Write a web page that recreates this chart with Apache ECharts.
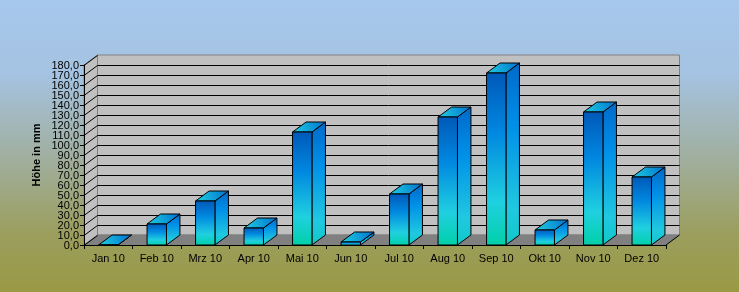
<!DOCTYPE html>
<html><head><meta charset="utf-8">
<script src="https://cdn.jsdelivr.net/npm/echarts@6/dist/echarts.min.js"></script>
<style>html,body{margin:0;padding:0;}#c{width:739px;height:292px;}</style>
</head><body><div id="c"></div>
<script>
const categories = ['Jan 10','Feb 10','Mrz 10','Apr 10','Mai 10','Jun 10','Jul 10','Aug 10','Sep 10','Okt 10','Nov 10','Dez 10'];
const values = [0, 21, 44, 17, 113, 3, 51, 128, 172, 15, 133, 68];
const yTicks = [0,10,20,30,40,50,60,70,80,90,100,110,120,130,140,150,160,170,180];
const yTickLabels = ['0,0','10,0','20,0','30,0','40,0','50,0','60,0','70,0','80,0','90,0','100,0','110,0','120,0','130,0','140,0','150,0','160,0','170,0','180,0'];
const yName = 'Höhe in mm';

const DX = 13.5, DY = 10;
const chart = echarts.init(document.getElementById('c'));

function wallsRender(params, api) {
  const cs = params.coordSys;
  const x = cs.x, y = cs.y, w = cs.width, h = cs.height;
  const children = [];
  children.push({type:'polygon', shape:{points:[[x,y],[x+DX,y-DY],[x+DX,y+h-DY],[x,y+h]]}, style:{fill:'#c0c0c0', stroke:'#808080', lineWidth:1}});
  children.push({type:'rect', shape:{x:x+DX, y:y-DY, width:w, height:h}, style:{fill:'#c0c0c0', stroke:'#808080', lineWidth:1}});
  children.push({type:'polygon', shape:{points:[[x,y+h],[x+DX,y+h-DY],[x+w+DX,y+h-DY],[x+w,y+h]]}, style:{fill:'#808080', stroke:'#808080', lineWidth:1}});
  yTicks.forEach(function(v, i){
    const py = Math.round(api.coord([0, v])[1]) + 0.5;
    if (v > 0 && v < 180) {
      children.push({type:'line', shape:{x1:x+DX, y1:py-DY, x2:x+w+DX, y2:py-DY}, style:{stroke:'#000', lineWidth:1}});
    }
    children.push({type:'line', shape:{x1:x, y1:py, x2:x+DX, y2:py-DY}, style:{stroke:'#000', lineWidth:1}});
    children.push({type:'text', x:x-5, y:py, style:{text:yTickLabels[i], fill:'#000', font:'11px "Liberation Sans"', align:'right', verticalAlign:'middle'}});
  });
  children.push({type:'line', shape:{x1:x+w, y1:y+h, x2:x+w+DX, y2:y+h-DY}, style:{stroke:'#000', lineWidth:1}});
  return {type:'group', children: children};
}

function barRender(params, api) {
  const idx = api.value(0), val = api.value(1);
  const top = api.coord([idx, val]);
  const base = api.coord([idx, 0]);
  const band = api.size([1, 0])[0];
  const bw = band * 0.4;
  const x0 = top[0] - bw / 2, x1 = x0 + bw;
  const ty = top[1], by = base[1];
  const frontFill = {type:'linear', x:0, y:0, x2:0, y2:1, colorStops:[
    {offset:0, color:'#0058b8'},{offset:0.35, color:'#0088e0'},{offset:0.75, color:'#20d0e0'},{offset:1, color:'#00d0a8'}]};
  const sideFill = {type:'linear', x:0, y:0, x2:0, y2:1, colorStops:[
    {offset:0, color:'#0068c8'},{offset:0.35, color:'#0090e8'},{offset:0.8, color:'#20c8e0'},{offset:1, color:'#10c8c8'}]};
  const topFill = {type:'linear', x:0, y:1, x2:1, y2:0, colorStops:[
    {offset:0, color:'#20d0e0'},{offset:1, color:'#0070d0'}]};
  const st = {stroke:'#000', lineWidth:1};
  return {type:'group', children:[
    {type:'polygon', shape:{points:[[x1,ty],[x1+DX,ty-DY],[x1+DX,by-DY],[x1,by]]}, style:Object.assign({fill:sideFill}, st)},
    {type:'polygon', shape:{points:[[x0,ty],[x0+DX,ty-DY],[x1+DX,ty-DY],[x1,ty]]}, style:Object.assign({fill:topFill}, st)},
    {type:'rect', shape:{x:x0, y:ty, width:bw, height:Math.max(by-ty,0)}, style:Object.assign({fill:frontFill}, st)}
  ]};
}

chart.setOption({
  animation: false,
  backgroundColor: {type:'linear', x:0, y:0, x2:0, y2:1, colorStops:[
    {offset:0, color:'#a6c8ec'},{offset:0.25, color:'#a5c3e2'},{offset:0.55, color:'#a0ae9c'},{offset:0.8, color:'#9b9e5e'},{offset:1, color:'#9a9a44'}]},
  grid: {left:84, right:73, top:65, bottom:47},
  xAxis: {
    type:'category', data: categories, z:10,
    axisLine:{lineStyle:{color:'#000', width:1}},
    axisTick:{show:true, length:4, lineStyle:{color:'#000'}},
    axisLabel:{color:'#000', fontFamily:'Liberation Sans', fontSize:11, margin:8}
  },
  yAxis: {
    type:'value', min:0, max:180, interval:10, z:10,
    name: yName, nameLocation:'middle', nameGap:42,
    nameTextStyle:{color:'#000', fontFamily:'Liberation Sans', fontSize:11, fontWeight:'bold'},
    axisLine:{show:true, lineStyle:{color:'#000', width:1}},
    axisTick:{show:true, length:4, lineStyle:{color:'#000'}},
    axisLabel:{show:false},
    splitLine:{show:false}
  },
  series: [
    {type:'custom', z:1, renderItem: wallsRender, data:[[0,0]], silent:true, clip:false},
    {type:'custom', z:3, renderItem: barRender, data: values.map(function(v,i){return [i,v];}), clip:false}
  ]
});
</script></body></html>
